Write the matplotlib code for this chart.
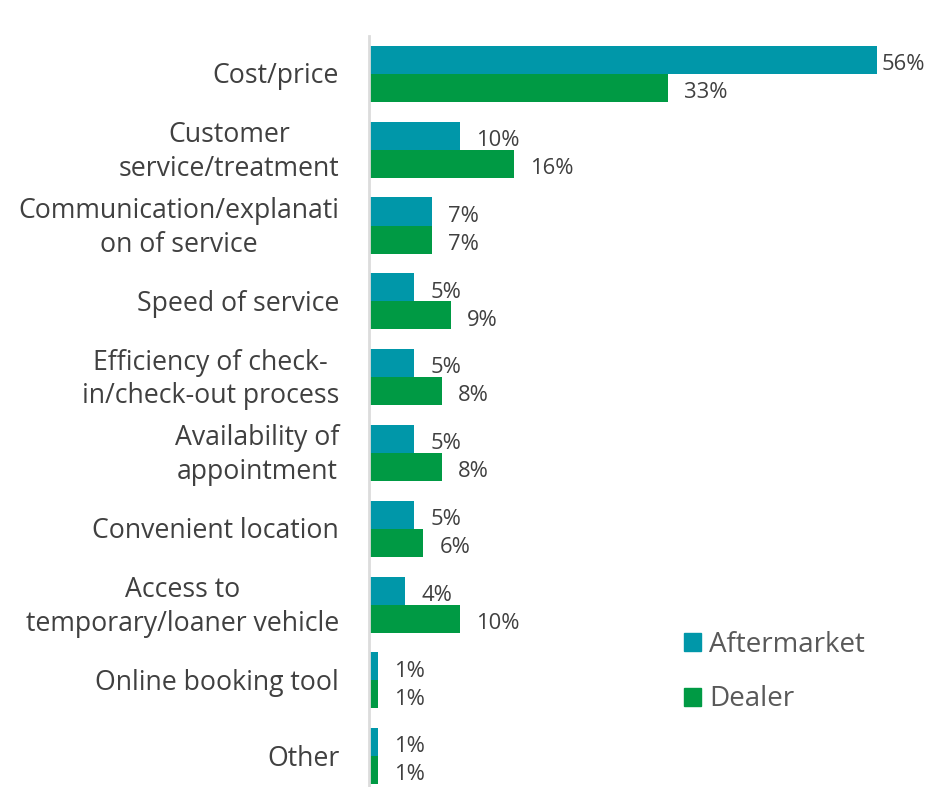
import matplotlib
matplotlib.use("Agg")
import matplotlib.pyplot as plt
import numpy as np
from matplotlib.patches import Patch

plt.rcParams['font.family'] = ['Open Sans', 'DejaVu Sans']

categories = [
    "Cost/price",
    "Customer\nservice/treatment",
    "Communication/explanati\non of service",
    "Speed of service",
    "Efficiency of check-\nin/check-out process",
    "Availability of\nappointment",
    "Convenient location",
    "Access to\ntemporary/loaner vehicle",
    "Online booking tool",
    "Other",
]
aftermarket = [56, 10, 7, 5, 5, 5, 5, 4, 1, 1]
dealer = [33, 16, 7, 9, 8, 8, 6, 10, 1, 1]
series_names = ["Aftermarket", "Dealer"]

teal = "#0097A9"
green = "#009A44"
text_col = "#404040"

fig = plt.figure(figsize=(9.30, 7.87), dpi=100)
ax = fig.add_axes([369 / 930, 0.0, 1 - 369 / 930, (787 - 36) / 787])

y = np.arange(len(categories))
h = 0.37
ax.barh(y - h / 2, aftermarket, height=h, color=teal, label=series_names[0])
ax.barh(y + h / 2, dealer, height=h, color=green, label=series_names[1])

xmax = (930 - 369) / 9.07
ax.set_xlim(0, xmax)
ax.set_ylim((787 - 74) / 75.8, -0.5)

# value labels just past the end of each bar
for vals, off in ((aftermarket, -h / 2), (dealer, h / 2)):
    for i, v in enumerate(vals):
        dx = 11.5
        if v > xmax - 7:
            dx = 3.5
        ax.annotate(f"{v}%", (v, i + off), xytext=(dx, -3.4), textcoords="offset points",
                    va="center", ha="left", fontsize=15.8, color=text_col)

# category labels, right-aligned block with centred lines
ax.set_yticks(y)
ax.tick_params(axis="y", length=0, labelleft=False)
for i, name in enumerate(categories):
    dy = 2.9 if "\n" in name else 0.7
    ax.annotate(name, (0, i), xycoords=("axes fraction", "data"),
                xytext=(-21.5, dy), textcoords="offset points",
                ha="right", va="center_baseline", multialignment="center",
                fontsize=19.2, color=text_col, linespacing=1.27)
ax.tick_params(axis="x", bottom=False, labelbottom=False)

for s in ("top", "right", "bottom"):
    ax.spines[s].set_visible(False)
ax.spines["left"].set_color("#dcdcdc")
ax.spines["left"].set_linewidth(2)

handles = [Patch(color=teal), Patch(color=green)]
leg = fig.legend(handles, series_names, loc="upper left", bbox_to_anchor=(673 / 930, 1 - 620 / 787),
                 frameon=False, fontsize=20, handlelength=0.62, handleheight=0.62,
                 handletextpad=0.28, labelspacing=0.95, borderaxespad=0)
for t in leg.get_texts():
    t.set_color("#595959")

fig.savefig("out.png", dpi=100)
